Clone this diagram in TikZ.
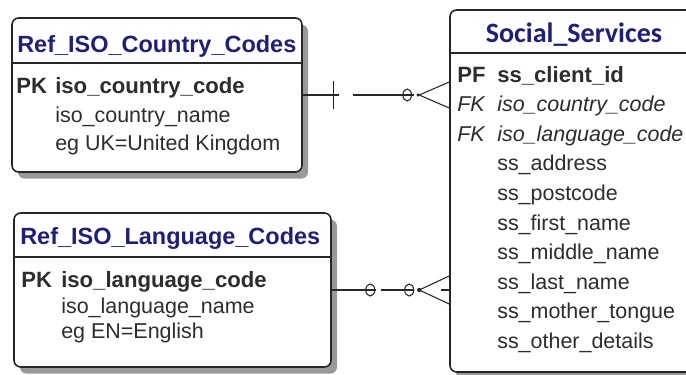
\documentclass[tikz,border=0pt]{standalone}
\usepackage{fontspec}
\setmainfont{Liberation Sans}
\newfontfamily\headfont{Carlito}
\usepackage{tikz}
\usetikzlibrary{shadows}

\definecolor{tablename}{RGB}{30,30,125}
\definecolor{coltext}{RGB}{45,45,45}

\tikzset{
  entity/.style={draw=black!85, line width=1.2pt, fill=white, rounded corners=5pt, inner sep=0pt,
    drop shadow={shadow xshift=4.5pt, shadow yshift=-5pt, fill=black, opacity=0.4}},
  tname/.style={anchor=base west, inner sep=0pt, text=tablename, font=\fontsize{17.6}{20}\selectfont\bfseries},
  keytag/.style={anchor=base west, inner sep=0pt, text=coltext, font=\fontsize{16.6}{19}\selectfont\bfseries},
  fktag/.style={anchor=base west, inner sep=0pt, text=coltext, font=\fontsize{16.1}{19}\selectfont\itshape},
  column/.style={anchor=base west, inner sep=0pt, text=coltext, font=\fontsize{16.1}{19}\selectfont},
  rel/.style={line width=0.8pt, draw=black!85},
}

\begin{document}
\begin{tikzpicture}[x=0.75pt, y=-0.75pt]
    \useasboundingbox (0,0) rectangle (686,375);
    \fill[white] (0,0) rectangle (686,375);
    \clip (0,0) rectangle (686,375);

    % Define nodes
    \node[entity, minimum width=217.5pt, minimum height=115.5pt] at (157, 95) (country) {};
    \node[entity, minimum width=237.75pt, minimum height=115.5pt] at (172.5, 290) (language) {};
    \node[entity, minimum width=187.5pt, minimum height=271.5pt] at (575, 191) (social) {};

    % Header lines
    \draw[line width=1.2pt, black!85] (country.west |- 0,63) -- (country.east |- 0,63);
    \draw[line width=1.2pt, black!85] (language.west |- 0,257) -- (language.east |- 0,257);
    \draw[line width=1.2pt, black!85] (social.west |- 0,53) -- (social.east |- 0,53);

    % Ref_ISO_Country_Codes
    \node[tname] at (17, 52) (country title) {Ref\_ISO\_Country\_Codes};
    \node[keytag] at (16, 93) (country pk) {PK};
    \node[keytag] at (55, 93) (country code) {iso\_country\_code};
    \node[column] at (55, 122) (country name) {iso\_country\_name};
    \node[column] at (55, 150) (country eg) {eg UK=United Kingdom};

    % Ref_ISO_Language_Codes
    \node[tname] at (20, 244) (language title) {Ref\_ISO\_Language\_Codes};
    \node[keytag] at (21, 287) (language pk) {PK};
    \node[keytag] at (61, 287) (language code) {iso\_language\_code};
    \node[column] at (61, 313) (language name) {iso\_language\_name};
    \node[column] at (61, 338) (language eg) {eg EN=English};

    % Social_Services
    \node[anchor=base, inner sep=0pt, text=tablename, font=\headfont\fontsize{21}{24}\selectfont\bfseries] at (574, 42) (social title) {Social\_Services};
    \node[keytag] at (457, 82) (social pf) {PF};
    \node[keytag] at (497, 82) (client id) {ss\_client\_id};
    \node[fktag] at (457, 111.6) (social fk1) {FK};
    \node[fktag] at (497, 111.6) (country fk) {iso\_country\_code};
    \node[fktag] at (457, 141.2) (social fk2) {FK};
    \node[fktag] at (497, 141.2) (language fk) {iso\_language\_code};
    \node[column] at (497, 170.8) (address) {ss\_address};
    \node[column] at (497, 200.4) (postcode) {ss\_postcode};
    \node[column] at (497, 230) (first name) {ss\_first\_name};
    \node[column] at (497, 259.6) (middle name) {ss\_middle\_name};
    \node[column] at (497, 289.2) (last name) {ss\_last\_name};
    \node[column] at (497, 318.8) (mother tongue) {ss\_mother\_tongue};
    \node[column] at (497, 348.4) (other details) {ss\_other\_details};

    % Draw relationships
    \coordinate (country end) at (social.west |- country.east);
    \coordinate (language end) at (social.west |- language.east);

    % country -> social: one / zero-or-many
    \draw[rel] (country.east) -- ++(36,0);
    \draw[rel] (country.east) ++(31,-14) -- ++(0,28);
    \draw[rel] (country.east) ++(50,0) -- ++(61,0);
    \draw[rel] (country end) ++(-42,0) ellipse [x radius=3.2pt, y radius=4.5pt];
    \fill[black!85] (country end) ++(-31,0) circle [radius=1.3pt];
    \draw[rel] (country end) ++(0,-13) -- ++(-30,13) -- ++(30,13);

    % language -> social: zero-or-one / zero-or-many
    \draw[rel] (language.east) -- ++(44,0);
    \draw[rel] (language.east) ++(38.5,0) ellipse [x radius=3.4pt, y radius=4.5pt];
    \draw[rel] (language end) ++(-68,0) -- ++(33,0);
    \draw[rel] (language end) ++(-40,0) ellipse [x radius=3.4pt, y radius=4.5pt];
    \fill[black!85] (language end) ++(-30,0) circle [radius=1.6pt];
    \draw[rel] (language end) ++(0,-14) -- ++(-30,14) -- ++(30,14);
    \draw[rel] (language end) ++(-8,0) -- (language end);
\end{tikzpicture}
\end{document}
